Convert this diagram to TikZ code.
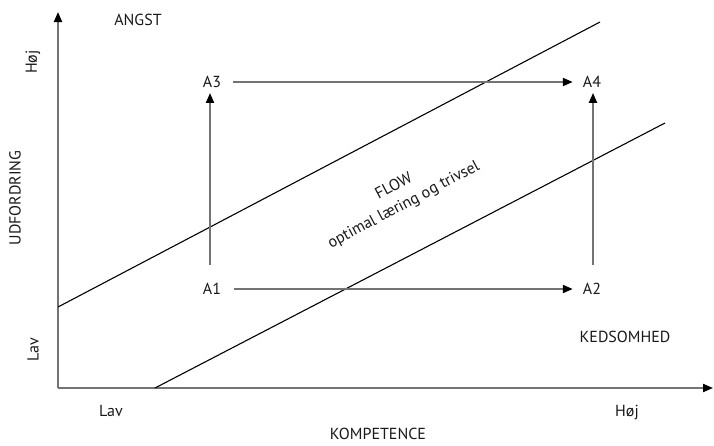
\documentclass[tikz,border=0pt]{standalone}
\usepackage{fontspec}
\setmainfont{PT Sans}
\usetikzlibrary{arrows.meta}
\begin{document}
\begin{tikzpicture}[x=1pt,y=-1pt,
  font=\fontsize{16}{18}\selectfont,
  txt/.style={text=black!90, inner sep=0pt},
  axis/.style={draw=black!55, line width=2pt, -{Triangle[length=10pt,width=8pt,color=black]}},
  move/.style={draw=black!55, line width=2pt, -{Triangle[length=10pt,width=8pt,color=black]}},
  zone/.style={draw=black, line width=1.1pt}]
\useasboundingbox[fill=white] (0,0) rectangle (714,445);

% axes
\coordinate (O) at (58,388);
\coordinate (ytop) at (58,12);
\coordinate (xend) at (713,388);
\draw[axis] (O) -- (ytop);
\draw[axis] (O) -- (xend);

% flow channel borders
\coordinate (u1) at (58,307);
\coordinate (u2) at (600,22);
\coordinate (l1) at (155,388);
\coordinate (l2) at (665,123);
\draw[zone] (u1) -- (u2);
\draw[zone] (l1) -- (l2);

% axis labels
\node[txt, rotate=90] (yhigh) at (33,62) {Høj};
\node[txt, rotate=90] (ylow) at (33,350) {Lav};
\node[txt, rotate=90] (ylab) at (15,198) {UDFORDRING};
\node[txt] (xlow) at (111,411) {Lav};
\node[txt] (xhigh) at (627,413) {Høj};
\node[txt] (xlab) at (378,434) {KOMPETENCE};

% zone labels
\node[txt] (angst) at (138,20) {ANGST};
\node[txt] (keds) at (625,337) {KEDSOMHED};
\node[txt, rotate=28, align=center, font=\fontsize{16}{21}\selectfont] (flow) at (399,196) {FLOW\\optimal læring og trivsel};

% states
\node[txt] (A1) at (212,289) {A1};
\node[txt] (A2) at (592,289) {A2};
\node[txt] (A3) at (212,82) {A3};
\node[txt] (A4) at (592,82) {A4};

\draw[move, shorten <=13pt, shorten >=10pt] (A1.east) -- (A2.west);
\draw[move, shorten <=12pt, shorten >=10pt] (A3.east) -- (A4.west);
\draw[move, shorten <=18pt, shorten >=5pt] ([xshift=-2pt]A1.north) -- ([xshift=-2pt]A3.south);
\draw[move, shorten <=18pt, shorten >=5pt] ([xshift=1pt]A2.north) -- ([xshift=1pt]A4.south);
\end{tikzpicture}
\end{document}
